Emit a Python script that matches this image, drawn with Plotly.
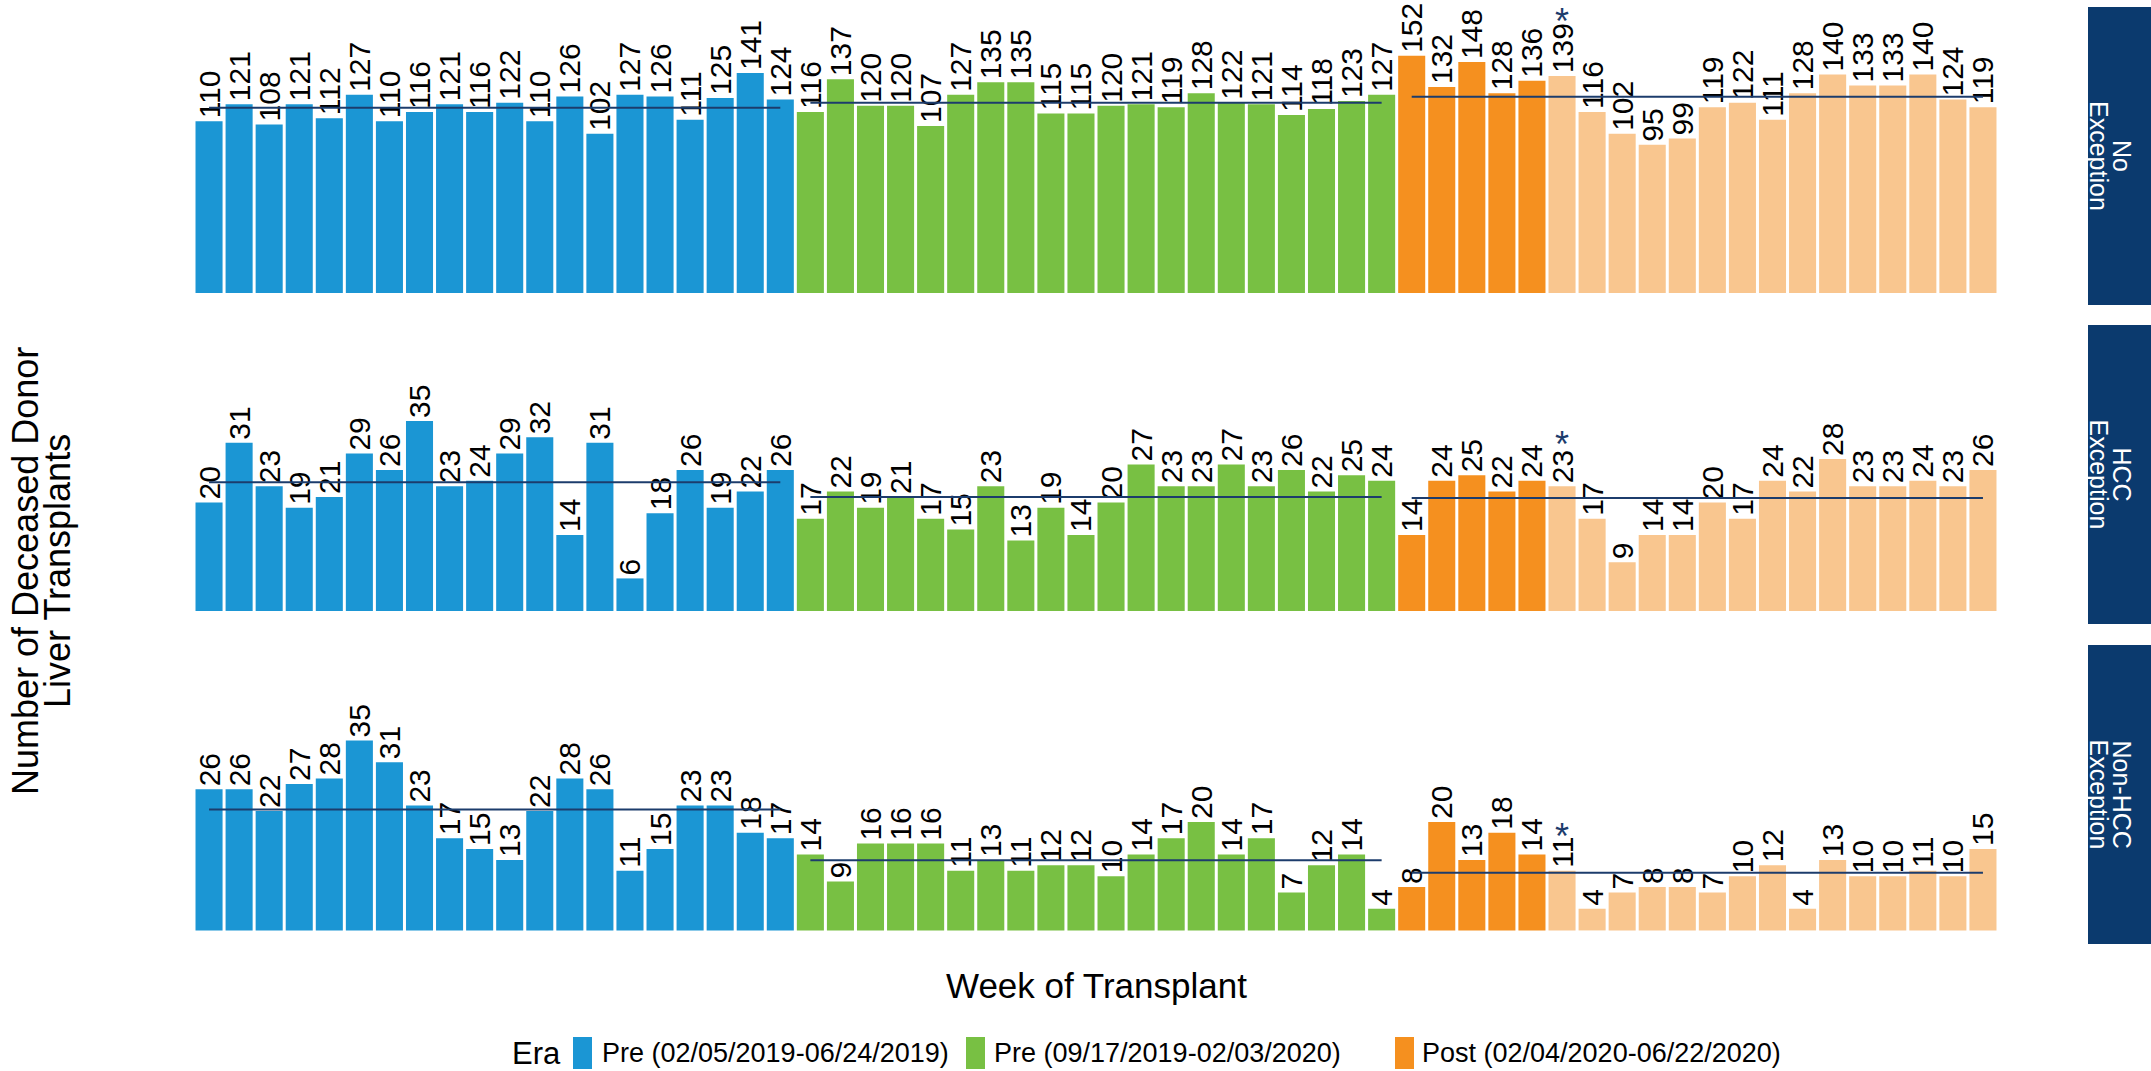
import plotly.graph_objects as go

# ---------------- data ----------------
panels = ["No Exception", "HCC Exception", "Non-HCC Exception"]
strip_lines = [["No", "Exception"], ["HCC", "Exception"], ["Non-HCC", "Exception"]]

era_names = ["Pre (02/05/2019-06/24/2019)", "Pre (09/17/2019-02/03/2020)",
             "Post (02/04/2020-06/22/2020)", "Post (later weeks)"]
era_counts = [20, 20, 5, 15]

no_exception = [110, 121, 108, 121, 112, 127, 110, 116, 121, 116, 122, 110, 126, 102, 127, 126, 111, 125, 141, 124,
                116, 137, 120, 120, 107, 127, 135, 135, 115, 115, 120, 121, 119, 128, 122, 121, 114, 118, 123, 127,
                152, 132, 148, 128, 136,
                139, 116, 102, 95, 99, 119, 122, 111, 128, 140, 133, 133, 140, 124, 119]
hcc_exception = [20, 31, 23, 19, 21, 29, 26, 35, 23, 24, 29, 32, 14, 31, 6, 18, 26, 19, 22, 26,
                 17, 22, 19, 21, 17, 15, 23, 13, 19, 14, 20, 27, 23, 23, 27, 23, 26, 22, 25, 24,
                 14, 24, 25, 22, 24,
                 23, 17, 9, 14, 14, 20, 17, 24, 22, 28, 23, 23, 24, 23, 26]
nonhcc_exception = [26, 26, 22, 27, 28, 35, 31, 23, 17, 15, 13, 22, 28, 26, 11, 15, 23, 23, 18, 17,
                    14, 9, 16, 16, 16, 11, 13, 11, 12, 12, 10, 14, 17, 20, 14, 17, 7, 12, 14, 4,
                    8, 20, 13, 18, 14,
                    11, 4, 7, 8, 8, 7, 10, 12, 4, 13, 10, 10, 11, 10, 15]
series = [no_exception, hcc_exception, nonhcc_exception]

# mean-line groups: (first week index, count)
mean_groups = [(0, 20), (20, 20), (40, 20)]
star_week = 46  # first week flagged with an asterisk

# ---------------- style ----------------
W, H = 2151, 1071
colors = ["#1b96d4", "#78c043", "#f5901f", "#f9c68f"]
line_col = "#1c3c6c"
strip_col = "#0b3a6e"
FONT = "Liberation Sans, Arial, Helvetica, sans-serif"

def px(x):
    return x / W

def py(y):
    return 1 - y / H

panel_px = [(7, 305), (325, 624), (645, 944)]
x_left, x_right = 191, 2001
strip_x = (2088, 2151)
y_ranges = [[-7.7, 183.3], [-2.4, 52.7], [-2.5, 52.6]]
star_shift = [55, 42, 34]

fig = go.Figure()
weeks = list(range(1, 61))

for p, vals in enumerate(series):
    xa = "x" if p == 0 else f"x{p+1}"
    ya = "y" if p == 0 else f"y{p+1}"
    start = 0
    for e, cnt in enumerate(era_counts):
        xs = weeks[start:start + cnt]
        ys = vals[start:start + cnt]
        fig.add_trace(go.Bar(
            x=xs, y=ys, width=0.9, marker=dict(color=colors[e], line=dict(width=0)),
            text=[str(v) for v in ys], textposition="outside", textangle=-90,
            textfont=dict(family=FONT, size=30, color="black"),
            constraintext="none", cliponaxis=False,
            name=era_names[e], showlegend=False, xaxis=xa, yaxis=ya,
            hoverinfo="skip"))
        start += cnt
    for (g0, gn) in mean_groups:
        seg = vals[g0:g0 + gn]
        m = sum(seg) / len(seg)
        fig.add_trace(go.Scatter(
            x=[weeks[g0], weeks[g0 + gn - 1]], y=[m, m], mode="lines",
            line=dict(color=line_col, width=2), showlegend=False,
            xaxis=xa, yaxis=ya, hoverinfo="skip"))
    # asterisk
    fig.add_annotation(x=star_week, y=vals[star_week - 1], xref=xa, yref=ya,
                       text="*", showarrow=False, xanchor="center", yanchor="middle",
                       yshift=star_shift[p],
                       font=dict(family=FONT, size=36, color=line_col))

layout = dict(
    width=W, height=H, margin=dict(l=0, r=0, t=0, b=0),
    paper_bgcolor="white", plot_bgcolor="white",
    barmode="overlay", showlegend=False,
    font=dict(family=FONT, color="black"),
)
for p in range(3):
    ax = "xaxis" if p == 0 else f"xaxis{p+1}"
    ay = "yaxis" if p == 0 else f"yaxis{p+1}"
    y0, y1 = panel_px[p]
    layout[ax] = dict(domain=[px(x_left), px(x_right)], range=[0.4, 60.6],
                      showticklabels=False, showgrid=False, zeroline=False,
                      showline=False, ticks="", anchor="y" if p == 0 else f"y{p+1}")
    layout[ay] = dict(domain=[py(y1), py(y0)], range=y_ranges[p],
                      showticklabels=False, showgrid=False, zeroline=False,
                      showline=False, ticks="", anchor="x" if p == 0 else f"x{p+1}")
fig.update_layout(**layout)

def label(x, y, text, size, color="black", angle=0, xanchor="center"):
    fig.add_annotation(x=px(x), y=py(y), xref="paper", yref="paper", text=text,
                       showarrow=False, textangle=angle, xanchor=xanchor, yanchor="middle",
                       font=dict(family=FONT, size=size, color=color))

# strips
for p in range(3):
    y0, y1 = panel_px[p]
    fig.add_shape(type="rect", xref="paper", yref="paper",
                  x0=px(strip_x[0]), x1=px(strip_x[1]), y0=py(y1), y1=py(y0),
                  fillcolor=strip_col, line=dict(width=0), layer="below")
    yc = (y0 + y1) / 2
    label(2122, yc, strip_lines[p][0], 25, "white", 90)
    label(2099, yc, strip_lines[p][1], 25, "white", 90)

# axis titles
label((x_left + x_right) / 2, 985, "Week of Transplant", 35)
label(25, 571, "Number of Deceased Donor", 36, angle=-90)
label(57, 571, "Liver Transplants", 36, angle=-90)

# legend (manual)
leg_y = 1053
label(510, leg_y, "Era", 31, xanchor="left")
leg_items = [(573, 600), (966, 992), (1395, 1420)]
for i, (sx, tx) in enumerate(leg_items):
    fig.add_shape(type="rect", xref="paper", yref="paper",
                  x0=px(sx), x1=px(sx + 19), y0=py(1069), y1=py(1037),
                  fillcolor=colors[i], line=dict(width=0))
    label(tx, leg_y, era_names[i], 27, xanchor="left")

fig.write_html("out.html", config={"displayModeBar": False},
               post_script="document.body.style.margin='0';document.body.style.overflow='hidden';")
